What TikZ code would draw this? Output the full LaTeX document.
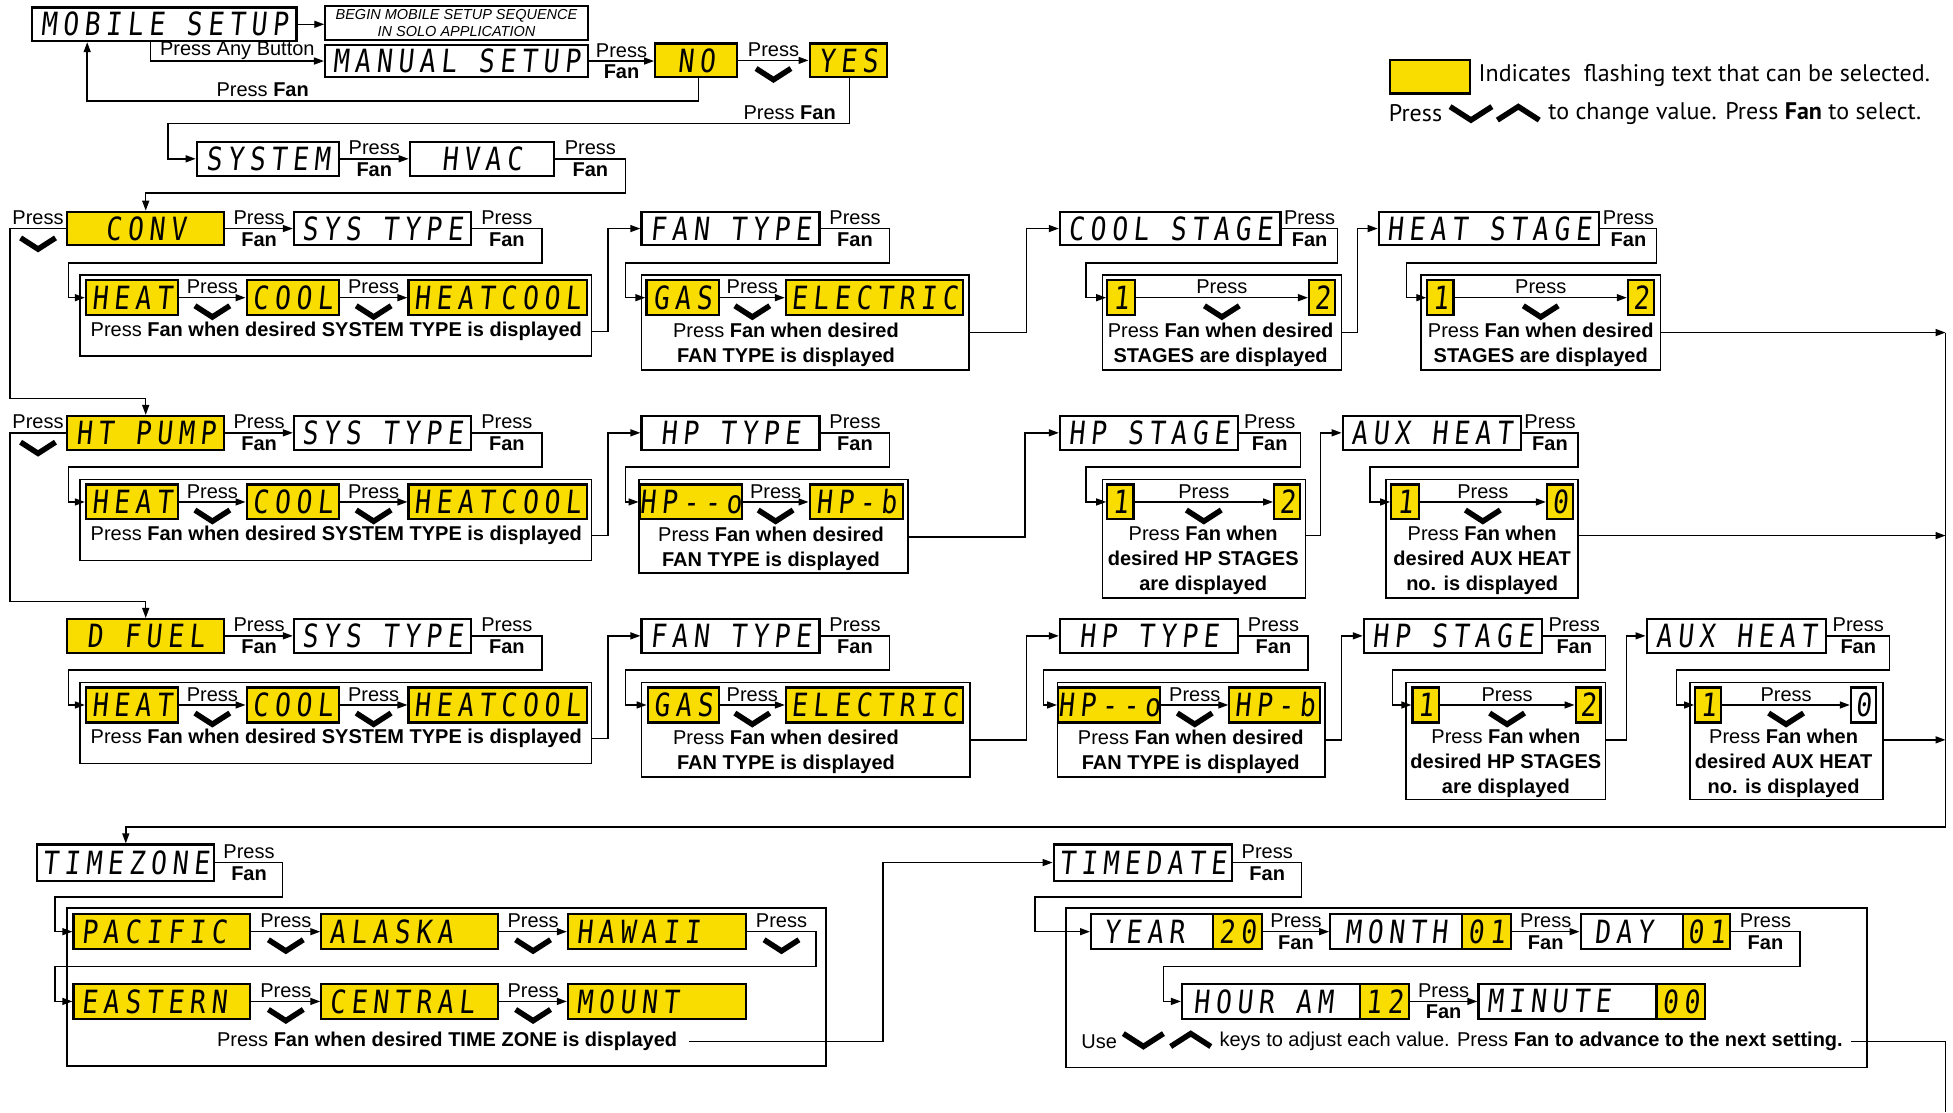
\documentclass[tikz,border=0pt]{standalone}
\usepackage{fontspec}
\setmainfont{Liberation Sans}
\newfontfamily\lcdfont[FakeStretch=0.82,FakeSlant=0.1,LetterSpace=18]{DejaVu Sans Mono}
\newfontfamily\legfont{PT Sans}
\usetikzlibrary{arrows.meta,calc}
\definecolor{lcdyellow}{RGB}{250,221,0}
\newcommand\mkbox[7][lcdw]{\node[#1,minimum width={(#5-#3)*1.2455pt},minimum height={(#6-#4)*1.2455pt}] (#2) at ({(#3+#5)/2},{(#4+#6)/2}) {#7};}
\newcommand\tpf[2]{\draw[arr] (#1.east) -- node[lbl,above]{Press} node[fan,below]{Fan} (#1.east -| #2.west);}
\newcommand\tpc[2]{\draw[arr] (#1.east) -- node[lbl,above]{Press} (#1.east -| #2.west); \pic at ($(#1.east)!0.5!(#2.west)+(0,11)$) {chevd};}
\newcommand\tel[5]{\draw[arr] (#1.east) -- node[lbl,above]{Press} node[fan,below]{Fan} (#2,0 |- #1.east) -- (#2,#3) -- (#4,#3) -- (#4,0 |- #5.west) -- (#5.west);}
\newcommand\phx[1]{\phantom{#1}}
\tikzset{
  lcdw/.style={draw,line width=2.2pt,fill=white,inner sep=0pt,font=\lcdfont\fontsize{32}{32}\selectfont},
  lcdy/.style={lcdw,fill=lcdyellow},
  grp/.style={draw,line width=1.6pt,inner sep=0pt},
  plainbox/.style={draw,line width=1.6pt,inner sep=0pt,align=center,font=\fontsize{14.5}{17}\selectfont\itshape},
  ln/.style={line width=1.4pt},
  arr/.style={ln,-{Triangle[length=10pt,width=7pt]}},
  lbl/.style={font=\fontsize{20}{22}\selectfont,inner sep=3pt},
  fan/.style={font=\fontsize{20}{22}\selectfont\bfseries,inner sep=3pt},
  gtxt/.style={font=\fontsize{20}{25}\selectfont,align=center,inner sep=0pt},
  legtxt/.style={font=\legfont\fontsize{24}{27}\selectfont,inner sep=0pt},
  chevd/.pic={\draw[line width=5.5pt,miter limit=10] (-14,-4.5) -- (0,4.5) -- (14,-4.5);},
  chevu/.pic={\draw[line width=5.5pt,miter limit=10] (-14,4.5) -- (0,-4.5) -- (14,4.5);},
}
\begin{document}
\begin{tikzpicture}[x=1.2455pt,y=-1.2455pt]
\fill[white] (0,0) rectangle (1568,893);
\useasboundingbox (0,0) rectangle (1568,893);

% ================= NODES =================
% top
\mkbox{mobile}{26}{6}{238}{33}{MOBILE SETUP}
\mkbox[plainbox]{begin}{261}{5}{472}{32}{BEGIN MOBILE SETUP SEQUENCE\\IN SOLO APPLICATION}
\mkbox{manual}{261}{36}{472}{62}{MANUAL SETUP}
\mkbox[lcdy]{no}{526}{35}{592}{62}{NO}
\mkbox[lcdy]{yes}{650}{35}{712}{62}{YES}
\mkbox{system}{158}{114}{272}{141}{SYSTEM}
\mkbox{hvac}{329}{114}{445}{141}{HVAC}
% legend
\mkbox[lcdy]{legbox}{1116}{48}{1180}{75}{}
\node[legtxt,anchor=west] (leg1) at (1187,61) {Indicates\ \ flashing text that can be selected.};
\node[legtxt,anchor=west] (leg2a) at (1115,91) {Press};
\node[legtxt,anchor=west] (leg2b) at (1243,91) {to change value. Press \textbf{Fan} to select.};
% row 1
\mkbox[lcdy]{conv}{54}{170}{180}{197}{CONV}
\mkbox{systype1}{236}{170}{378}{197}{SYS TYPE}
\mkbox[grp]{g1}{64}{221}{475}{286}{}
\mkbox[lcdy]{heat1}{69}{225}{143}{253}{HEAT}
\mkbox[lcdy]{cool1}{198}{225}{272}{253}{COOL}
\mkbox[lcdy]{hc1}{328}{225}{471}{253}{HEATCOOL}
\node[gtxt] (t1) at (270,266) {Press \textbf{Fan when desired SYSTEM TYPE is displayed}};
\mkbox{fantype1}{515}{170}{658}{197}{FAN TYPE}
\mkbox[grp]{g2}{515}{221}{778}{297}{}
\mkbox[lcdy]{gas1}{519}{225}{577}{253}{GAS}
\mkbox[lcdy]{elec1}{631}{225}{773}{253}{ELECTRIC}
\node[gtxt] (t2) at (631,277) {Press \textbf{Fan when desired}\\\textbf{FAN TYPE is displayed}};
\mkbox{coolst}{851}{170}{1028}{197}{COOL STAGE}
\mkbox[grp]{g3}{885}{221}{1077}{297}{}
\mkbox[lcdy]{one1}{889}{225}{911}{253}{1}
\mkbox[lcdy]{two1}{1051}{225}{1072}{253}{2}
\node[gtxt] (t3) at (980,277) {Press \textbf{Fan when desired}\\\textbf{STAGES are displayed}};
\mkbox{heatst}{1107}{170}{1284}{197}{HEAT STAGE}
\mkbox[grp]{g4}{1141}{221}{1333}{297}{}
\mkbox[lcdy]{one2}{1146}{225}{1167}{253}{1}
\mkbox[lcdy]{two2}{1307}{225}{1328}{253}{2}
\node[gtxt] (t4) at (1237,277) {Press \textbf{Fan when desired}\\\textbf{STAGES are displayed}};
% row 2
\mkbox[lcdy]{htpump}{54}{334}{180}{361}{HT PUMP}
\mkbox{systype2}{236}{334}{378}{361}{SYS TYPE}
\mkbox[grp]{g5}{64}{385}{475}{450}{}
\mkbox[lcdy]{heat2}{69}{389}{143}{417}{HEAT}
\mkbox[lcdy]{cool2}{198}{389}{272}{417}{COOL}
\mkbox[lcdy]{hc2}{328}{389}{471}{417}{HEATCOOL}
\node[gtxt] (t5) at (270,430) {Press \textbf{Fan when desired SYSTEM TYPE is displayed}};
\mkbox{hptype2}{515}{334}{658}{361}{HP TYPE}
\mkbox[grp]{g6}{513}{385}{729}{460}{}
\mkbox[lcdy]{hpo2}{518}{389}{591}{417}{HP-{}-o}
\mkbox[lcdy]{hpb2}{650}{389}{725}{417}{HP-b}
\node[gtxt] (t6) at (619,441) {Press \textbf{Fan when desired}\\\textbf{FAN TYPE is displayed}};
\mkbox{hpst2}{851}{334}{994}{361}{HP STAGE}
\mkbox[grp]{g7}{885}{385}{1048}{480}{}
\mkbox[lcdy]{one3}{889}{389}{910}{417}{1}
\mkbox[lcdy]{two3}{1023}{389}{1044}{417}{2}
\node[gtxt] (t7) at (966,450) {Press \textbf{Fan when}\\\textbf{desired HP STAGES}\\\textbf{are displayed}};
\mkbox{auxh2}{1078}{334}{1221}{361}{AUX HEAT}
\mkbox[grp]{g8}{1113}{385}{1267}{480}{}
\mkbox[lcdy]{one4}{1117}{389}{1139}{417}{1}
\mkbox[lcdy]{zero4}{1242}{389}{1263}{417}{0}
\node[gtxt] (t8) at (1190,450) {Press \textbf{Fan when}\\\textbf{desired AUX HEAT}\\\textbf{no. is displayed}};
% row 3
\mkbox[lcdy]{dfuel}{54}{497}{180}{524}{D FUEL}
\mkbox{systype3}{236}{497}{378}{524}{SYS TYPE}
\mkbox[grp]{g9}{64}{548}{475}{613}{}
\mkbox[lcdy]{heat3}{69}{552}{143}{580}{HEAT}
\mkbox[lcdy]{cool3}{198}{552}{272}{580}{COOL}
\mkbox[lcdy]{hc3}{328}{552}{471}{580}{HEATCOOL}
\node[gtxt] (t9) at (270,593) {Press \textbf{Fan when desired SYSTEM TYPE is displayed}};
\mkbox{fantype3}{515}{497}{658}{524}{FAN TYPE}
\mkbox[grp]{g10}{515}{548}{779}{624}{}
\mkbox[lcdy]{gas3}{520}{552}{577}{580}{GAS}
\mkbox[lcdy]{elec3}{631}{552}{773}{580}{ELECTRIC}
\node[gtxt] (t10) at (631,604) {Press \textbf{Fan when desired}\\\textbf{FAN TYPE is displayed}};
\mkbox{hptype3}{851}{497}{994}{524}{HP TYPE}
\mkbox[grp]{g11}{849}{548}{1064}{624}{}
\mkbox[lcdy]{hpo3}{854}{552}{927}{580}{HP-{}-o}
\mkbox[lcdy]{hpb3}{987}{552}{1060}{580}{HP-b}
\node[gtxt] (t11) at (956,604) {Press \textbf{Fan when desired}\\\textbf{FAN TYPE is displayed}};
\mkbox{hpst3}{1095}{497}{1238}{524}{HP STAGE}
\mkbox[grp]{g12}{1129}{548}{1289}{642}{}
\mkbox[lcdy]{one5}{1134}{552}{1155}{580}{1}
\mkbox[lcdy]{two5}{1265}{552}{1285}{580}{2}
\node[gtxt] (t12) at (1209,613) {Press \textbf{Fan when}\\\textbf{desired HP STAGES}\\\textbf{are displayed}};
\mkbox{auxh3}{1322}{497}{1466}{524}{AUX HEAT}
\mkbox[grp]{g13}{1357}{548}{1512}{642}{}
\mkbox[lcdy]{one6}{1361}{552}{1382}{580}{1}
\mkbox{zero6}{1486}{552}{1506}{580}{0}
\node[gtxt] (t13) at (1432,613) {Press \textbf{Fan when}\\\textbf{desired AUX HEAT}\\\textbf{no. is displayed}};
% time zone
\mkbox{tz}{30}{678}{172}{707}{TIMEZONE}
\mkbox[grp]{g14}{54}{729}{663}{856}{}
\mkbox[lcdy]{pac}{59}{734}{201}{762}{PACIFIC\phx{X}}
\mkbox[lcdy]{ala}{258}{734}{400}{762}{ALASKA\phx{XX}}
\mkbox[lcdy]{haw}{456}{734}{599}{762}{HAWAII\phx{XX}}
\mkbox[lcdy]{eas}{59}{790}{201}{818}{EASTERN\phx{X}}
\mkbox[lcdy]{cent}{258}{790}{400}{818}{CENTRAL\phx{X}}
\mkbox[lcdy]{mount}{456}{790}{599}{818}{MOUNT\phx{XXX}}
\node[gtxt] (t14) at (359,836) {Press \textbf{Fan when desired TIME ZONE is displayed}};
% time date
\mkbox{td}{846}{678}{989}{707}{TIMEDATE}
\mkbox[grp]{g15}{856}{729}{1499}{857}{}
\mkbox{year}{876}{734}{974}{762}{YEAR\phx{X}}
\mkbox[lcdy]{yv}{974}{734}{1013}{762}{20}
\mkbox{month}{1068}{734}{1174}{762}{MONTH}
\mkbox[lcdy]{mv}{1174}{734}{1213}{762}{01}
\mkbox{day}{1269}{734}{1351}{762}{DAY\phx{X}}
\mkbox[lcdy]{dv}{1351}{734}{1389}{762}{01}
\mkbox{hour}{949}{790}{1092}{818}{HOUR AM\phx{X}}
\mkbox[lcdy]{hv}{1092}{790}{1131}{818}{12}
\mkbox{minute}{1187}{790}{1330}{818}{MINUTE\phx{XX}}
\mkbox[lcdy]{minv}{1330}{790}{1369}{818}{00}
\node[gtxt,anchor=west] (t15a) at (868,836) {Use};
\node[gtxt,anchor=west] (t15b) at (979,836) {keys to adjust each value. Press \textbf{Fan to advance to the next setting.}};
% bus coordinates
\coordinate (bus1) at (1562,267);
\coordinate (bus2) at (1562,430);
\coordinate (bus3) at (1562,594);
\coordinate (bus4) at (1562,664);
\coordinate (bend) at (1562,893);

% ================= CONNECTORS =================
% top
\draw[arr] (mobile.east) -- (mobile.east -| begin.west);
\draw[arr] (121,0 |- mobile.south) |- node[lbl,above,pos=0.75,inner sep=0.5pt]{Press Any Button} (manual.west);
\tpf{manual}{no}
\tpc{no}{yes}
\draw[arr] (561,0 |- no.south) -- (561,81) -- node[lbl,above,pos=0.713]{Press \textbf{Fan}} (70,81) -- (70,0 |- mobile.south);
\draw[arr] (682,0 |- yes.south) -- (682,99) node[lbl,anchor=south east,xshift=-10pt]{Press \textbf{Fan}} -- (135,99) -- (135,0 |- system.west) -- (system.west);
\tpf{system}{hvac}
\draw[arr] (hvac.east) -- node[lbl,above]{Press} node[fan,below]{Fan} (502,0 |- hvac.east) -- (502,155) -- (117,155) -- (conv.north);
% legend chevrons
\pic[scale=1.2] at (1181,91) {chevd};
\pic[scale=1.2] at (1219,91) {chevu};
% row 1
\tpf{conv}{systype1}
\draw[arr] (conv.west) -- node[lbl,above]{Press} (8,0 |- conv.west) -- (8,320) -- (117,320) -- (htpump.north);
\pic at ($(conv.west)!0.5!(8,0 |- conv.west)+(0,12)$) {chevd};
\tel{systype1}{435}{211}{55}{heat1}
\tpc{heat1}{cool1}
\tpc{cool1}{hc1}
\draw[arr] (g1.east |- 0,266) -- (488,266) -- (488,0 |- fantype1.west) -- (fantype1.west);
\tel{fantype1}{714}{211}{502}{gas1}
\tpc{gas1}{elec1}
\draw[arr] (g2.east |- 0,267) -- (824,267) -- (824,0 |- coolst.west) -- (coolst.west);
\tel{coolst}{1074}{211}{872}{one1}
\tpc{one1}{two1}
\draw[arr] (g3.east |- 0,267) -- (1090,267) -- (1090,0 |- heatst.west) -- (heatst.west);
\tel{heatst}{1330}{211}{1129}{one2}
\tpc{one2}{two2}
\draw[arr] (g4.east |- bus1) -- (bus1);
% row 2
\tpf{htpump}{systype2}
\draw[arr] (htpump.west) -- node[lbl,above]{Press} (8,0 |- htpump.west) -- (8,483) -- (117,483) -- (dfuel.north);
\pic at ($(htpump.west)!0.5!(8,0 |- htpump.west)+(0,12)$) {chevd};
\tel{systype2}{435}{375}{55}{heat2}
\tpc{heat2}{cool2}
\tpc{cool2}{hc2}
\draw[arr] (g5.east |- 0,430) -- (488,430) -- (488,0 |- hptype2.west) -- (hptype2.west);
\tel{hptype2}{714}{375}{502}{hpo2}
\tpc{hpo2}{hpb2}
\draw[arr] (g6.east |- 0,431) -- (823,431) -- (823,0 |- hpst2.west) -- (hpst2.west);
\tel{hpst2}{1044}{375}{872}{one3}
\tpc{one3}{two3}
\draw[arr] (g7.east |- 0,430) -- (1060,430) -- (1060,0 |- auxh2.west) -- (auxh2.west);
\tel{auxh2}{1267}{375}{1100}{one4}
\tpc{one4}{zero4}
\draw[arr] (g8.east |- bus2) -- (bus2);
% row 3
\tpf{dfuel}{systype3}
\tel{systype3}{435}{538}{55}{heat3}
\tpc{heat3}{cool3}
\tpc{cool3}{hc3}
\draw[arr] (g9.east |- 0,593) -- (488,593) -- (488,0 |- fantype3.west) -- (fantype3.west);
\tel{fantype3}{714}{538}{502}{gas3}
\tpc{gas3}{elec3}
\draw[arr] (g10.east |- 0,594) -- (824,594) -- (824,0 |- hptype3.west) -- (hptype3.west);
\tel{hptype3}{1050}{538}{838}{hpo3}
\tpc{hpo3}{hpb3}
\draw[arr] (g11.east |- 0,594) -- (1077,594) -- (1077,0 |- hpst3.west) -- (hpst3.west);
\tel{hpst3}{1289}{538}{1118}{one5}
\tpc{one5}{two5}
\draw[arr] (g12.east |- 0,594) -- (1306,594) -- (1306,0 |- auxh3.west) -- (auxh3.west);
\tel{auxh3}{1517}{538}{1346}{one6}
\tpc{one6}{zero6}
\draw[arr] (g13.east |- bus3) -- (bus3);
% bus
\draw[arr] (bus1) -- (bus4) -- (tz.north |- bus4) -- (tz.north);
% time zone
\tel{tz}{227}{720}{44}{pac}
\tpc{pac}{ala}
\tpc{ala}{haw}
\draw[arr] (haw.east) -- node[lbl,above]{Press} (655,0 |- haw.east) -- (655,776) -- (44,776) -- (44,0 |- eas.west) -- (eas.west);
\pic at ($(haw.east)!0.5!(655,0 |- haw.east)+(0,11)$) {chevd};
\tpc{eas}{cent}
\tpc{cent}{mount}
\draw[arr] ([xshift=12pt]t14.east) -- (709,0 |- t14.east) -- (709,0 |- td.west) -- (td.west);
% time date
\tel{td}{1045}{720}{831}{year}
\tpf{yv}{month}
\tpf{mv}{day}
\draw[arr] (dv.east) -- node[lbl,above]{Press} node[fan,below]{Fan} (1445,0 |- dv.east) -- (1445,776) -- (934,776) -- (934,0 |- hour.west) -- (hour.west);
\tpf{hv}{minute}
\pic[scale=1.15] at (918,835) {chevd};
\pic[scale=1.15] at (956,835) {chevu};
\draw[ln] ([xshift=8pt]t15b.east) -- (bend |- t15b.east) -- (bend);
\end{tikzpicture}
\end{document}
